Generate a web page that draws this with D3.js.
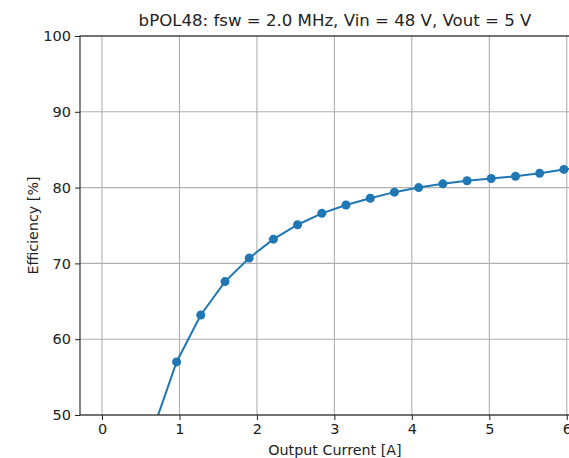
<!DOCTYPE html>
<html>
<head>
<meta charset="utf-8">
<script src="https://cdn.jsdelivr.net/npm/d3@7"></script>
<style>
  html, body { margin: 0; padding: 0; background: #fff; overflow: hidden; }
  svg { display: block; font-family: "DejaVu Sans", sans-serif; }
</style>
</head>
<body>
<div id="chart"></div>
<script>
const chartTitle = 'bPOL48: fsw = 2.0 MHz, Vin = 48 V, Vout = 5 V';
const xLabel = 'Output Current [A]';
const yLabel = 'Efficiency [%]';

// output current [A]
const current = [0.65, 0.963, 1.275, 1.588, 1.9, 2.213, 2.525, 2.838, 3.15, 3.463,
    3.775, 4.088, 4.4, 4.713, 5.025, 5.338, 5.65, 5.963, 6.275];
// efficiency [%]
const efficiency = [47.8, 57.0, 63.2, 67.6, 70.7, 73.2, 75.1, 76.6, 77.7, 78.6,
    79.4, 80.0, 80.5, 80.9, 81.2, 81.5, 81.9, 82.4, 82.8];

const xTicks = [0, 1, 2, 3, 4, 5, 6];
const yTicks = [50, 60, 70, 80, 90, 100];

const data = current.map((c, i) => ({ x: c, y: efficiency[i] }));

const W = 569, H = 458;
const margin = { left: 80, top: 36, right: -21, bottom: 43 };
const width = W - margin.left - margin.right;
const height = H - margin.top - margin.bottom;

const svg = d3.select('#chart').append('svg')
    .attr('width', W)
    .attr('height', H);

const g = svg.append('g')
    .attr('transform', `translate(${margin.left},${margin.top})`);

const xScale = d3.scaleLinear().domain([-0.284, 6.3]).range([0, width]);
const yScale = d3.scaleLinear().domain([50, 100]).range([height, 0]);

svg.append('defs').append('clipPath')
    .attr('id', 'plotClip')
    .append('rect')
    .attr('width', width)
    .attr('height', height);

// grid
g.append('g')
    .selectAll('line')
    .data(xTicks)
    .enter()
    .append('line')
    .attr('x1', d => xScale(d))
    .attr('x2', d => xScale(d))
    .attr('y1', 0)
    .attr('y2', height)
    .attr('stroke', '#b0b0b0')
    .attr('stroke-width', 1.1);

g.append('g')
    .selectAll('line')
    .data(yTicks)
    .enter()
    .append('line')
    .attr('x1', 0)
    .attr('x2', width)
    .attr('y1', d => yScale(d))
    .attr('y2', d => yScale(d))
    .attr('stroke', '#b0b0b0')
    .attr('stroke-width', 1.1);

// line and markers
const plot = g.append('g').attr('clip-path', 'url(#plotClip)');

const line = d3.line()
    .x(d => xScale(d.x))
    .y(d => yScale(d.y));

plot.append('path')
    .datum(data)
    .attr('d', line)
    .attr('fill', 'none')
    .attr('stroke', '#1f77b4')
    .attr('stroke-width', 2);

plot.selectAll('.dot')
    .data(data)
    .enter()
    .append('circle')
    .attr('class', 'dot')
    .attr('cx', d => xScale(d.x))
    .attr('cy', d => yScale(d.y))
    .attr('r', 4.5)
    .attr('fill', '#1f77b4');

// axes
const xAxis = d3.axisBottom(xScale)
    .tickValues(xTicks)
    .tickSize(5)
    .tickPadding(4)
    .tickFormat(d3.format('d'));

const yAxis = d3.axisLeft(yScale)
    .tickValues(yTicks)
    .tickSize(5)
    .tickPadding(4)
    .tickFormat(d3.format('d'));

const xg = g.append('g')
    .attr('transform', `translate(0,${height})`)
    .call(xAxis);

const yg = g.append('g')
    .call(yAxis);

[xg, yg].forEach(ax => {
    ax.select('.domain').remove();
    ax.selectAll('.tick line').attr('stroke', '#222').attr('stroke-width', 1);
    ax.selectAll('.tick text')
        .attr('fill', '#222')
        .style('font-size', '14.5px')
        .style('font-family', '"DejaVu Sans", sans-serif');
});

// spines
g.append('rect')
    .attr('width', width)
    .attr('height', height)
    .attr('fill', 'none')
    .attr('stroke', '#222')
    .attr('stroke-width', 1.1);

// labels
g.append('text')
    .attr('x', width / 2)
    .attr('y', -10)
    .attr('text-anchor', 'middle')
    .attr('fill', '#222')
    .style('font-size', '16.6px')
    .text(chartTitle);

g.append('text')
    .attr('x', width / 2)
    .attr('y', height + 40)
    .attr('text-anchor', 'middle')
    .attr('fill', '#222')
    .style('font-size', '14.3px')
    .text(xLabel);

g.append('text')
    .attr('transform', 'rotate(-90)')
    .attr('x', -height / 2)
    .attr('y', -42)
    .attr('text-anchor', 'middle')
    .attr('fill', '#222')
    .style('font-size', '14.3px')
    .text(yLabel);
</script>
</body>
</html>
